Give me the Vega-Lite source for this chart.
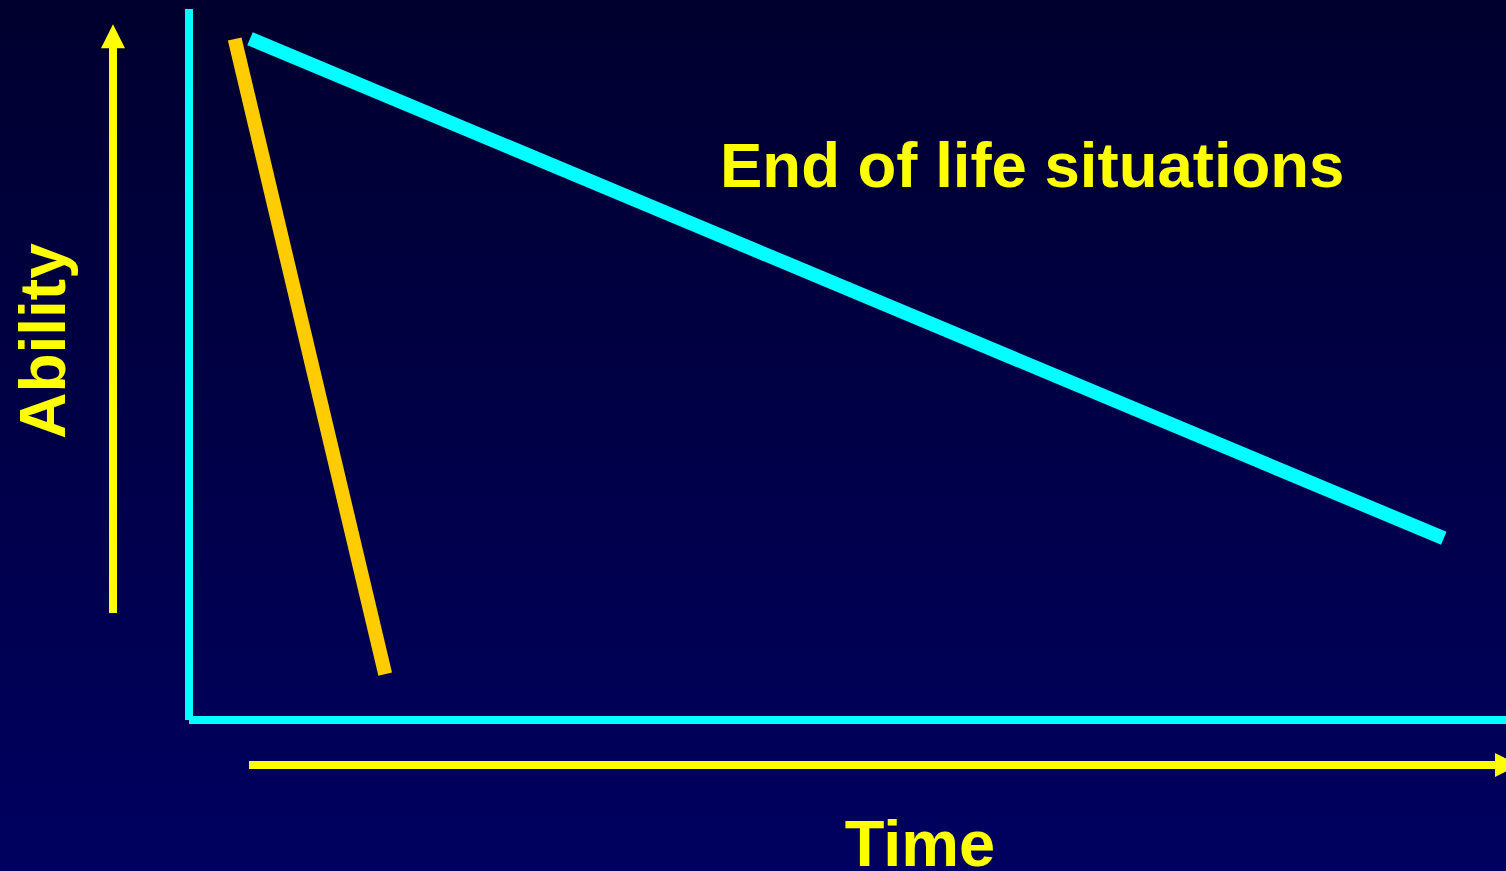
{
  "$schema": "https://vega.github.io/schema/vega-lite/v6.json",
  "width": 1506,
  "height": 871,
  "padding": 0,
  "autosize": {"type": "none"},
  "background": "#000040",
  "config": {"view": {"stroke": null}},
  "datasets": {
    "frame": [
      {"part": "y-axis", "x": 0, "y": 0, "x2": 0, "y2": 711},
      {"part": "x-axis", "x": 0, "y": 0, "x2": 1317, "y2": 0}
    ],
    "arrows": [
      {"dir": "up", "x": -76, "y": 107, "x2": -76, "y2": 672, "hx": -76, "hy": 683.7},
      {"dir": "right", "x": 60, "y": -45, "x2": 1306, "y2": -45, "hx": 1318, "hy": -45}
    ],
    "trajectories": [
      {"series": "Sudden decline", "time0": 45.7, "ability0": 681, "time1": 196.2, "ability1": 45.8},
      {"series": "End of life situations", "time0": 61, "ability0": 681.3, "time1": 1254.8, "ability1": 181.7}
    ],
    "labels": [
      {"label": "End of life situations", "x": 531, "y": 533}
    ],
    "xlabels": [
      {"label": "Time", "x": 731, "y": -146}
    ],
    "vlabels": [
      {"label": "Ability", "x": -124, "y": 379}
    ]
  },
  "layer": [
    {
      "data": {"values": [{"x": -189, "x2": 1317, "y": -151, "y2": 720}]},
      "mark": {
        "type": "rect",
        "fill": {
          "gradient": "linear", "x1": 0, "y1": 0, "x2": 0, "y2": 1,
          "stops": [{"offset": 0, "color": "#00002E"}, {"offset": 1, "color": "#000060"}]
        }
      },
      "encoding": {
        "x": {"field": "x", "type": "quantitative", "scale": {"domain": [-189, 1317], "nice": false, "zero": false}, "axis": null},
        "x2": {"field": "x2"},
        "y": {"field": "y", "type": "quantitative", "scale": {"domain": [-151, 720], "nice": false, "zero": false}, "axis": null},
        "y2": {"field": "y2"}
      }
    },
    {
      "data": {"name": "frame"},
      "mark": {"type": "rule", "color": "#00FFFF", "strokeWidth": 8, "strokeCap": "butt"},
      "encoding": {
        "x": {"field": "x", "type": "quantitative"},
        "x2": {"field": "x2"},
        "y": {"field": "y", "type": "quantitative"},
        "y2": {"field": "y2"}
      }
    },
    {
      "data": {"name": "arrows"},
      "mark": {"type": "rule", "color": "#FFFF00", "strokeWidth": 8, "strokeCap": "butt"},
      "encoding": {
        "x": {"field": "x", "type": "quantitative"},
        "x2": {"field": "x2"},
        "y": {"field": "y", "type": "quantitative"},
        "y2": {"field": "y2"}
      }
    },
    {
      "data": {"name": "arrows"},
      "mark": {"type": "point", "filled": true, "color": "#FFFF00", "opacity": 1, "size": 576, "strokeWidth": 0},
      "encoding": {
        "x": {"field": "hx", "type": "quantitative"},
        "y": {"field": "hy", "type": "quantitative"},
        "shape": {
          "field": "dir", "type": "nominal",
          "scale": {"domain": ["up", "right"], "range": ["M0,-1L1,1L-1,1Z", "M-1,-1L1,0L-1,1Z"]},
          "legend": null
        }
      }
    },
    {
      "data": {"name": "trajectories"},
      "mark": {"type": "rule", "strokeWidth": 14, "strokeCap": "butt"},
      "encoding": {
        "x": {"field": "time0", "type": "quantitative"},
        "x2": {"field": "time1"},
        "y": {"field": "ability0", "type": "quantitative"},
        "y2": {"field": "ability1"},
        "color": {
          "field": "series", "type": "nominal",
          "scale": {"domain": ["Sudden decline", "End of life situations"], "range": ["#FFCC00", "#00FFFF"]},
          "legend": null
        }
      }
    },
    {
      "data": {"name": "labels"},
      "mark": {"type": "text", "font": "Liberation Sans", "fontWeight": "bold", "fontSize": 63.5, "color": "#FFFF00", "align": "left", "baseline": "alphabetic"},
      "encoding": {
        "x": {"field": "x", "type": "quantitative"},
        "y": {"field": "y", "type": "quantitative"},
        "text": {"field": "label"}
      }
    },
    {
      "data": {"name": "xlabels"},
      "mark": {"type": "text", "font": "Liberation Sans", "fontWeight": "bold", "fontSize": 65, "color": "#FFFF00", "align": "center", "baseline": "alphabetic"},
      "encoding": {
        "x": {"field": "x", "type": "quantitative"},
        "y": {"field": "y", "type": "quantitative"},
        "text": {"field": "label"}
      }
    },
    {
      "data": {"name": "vlabels"},
      "mark": {"type": "text", "font": "Liberation Sans", "fontWeight": "bold", "fontSize": 64, "color": "#FFFF00", "align": "center", "baseline": "alphabetic", "angle": 270},
      "encoding": {
        "x": {"field": "x", "type": "quantitative"},
        "y": {"field": "y", "type": "quantitative"},
        "text": {"field": "label"}
      }
    }
  ]
}
